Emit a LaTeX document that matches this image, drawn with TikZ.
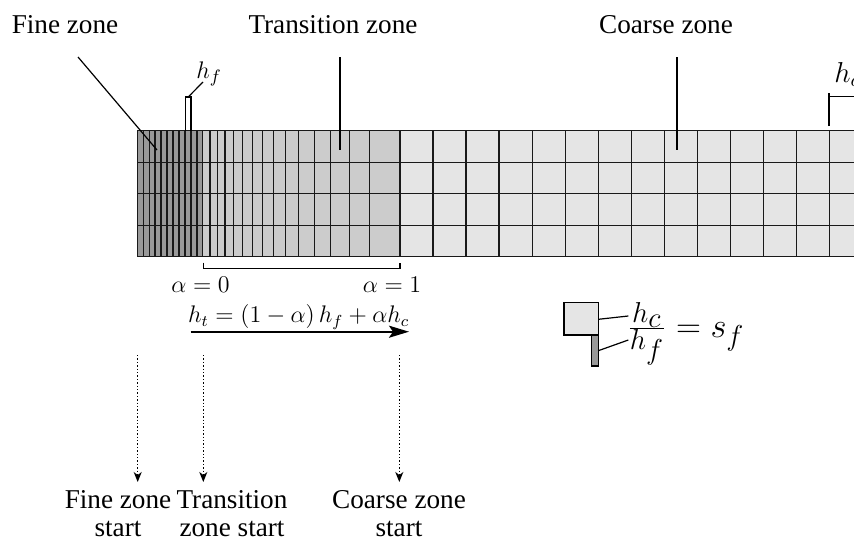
\documentclass[tikz,border=0pt]{standalone}
\usepackage[no-math]{fontspec}
\setmainfont{Liberation Serif}
\usetikzlibrary{arrows.meta}
\definecolor{finegray}{gray}{0.6}
\definecolor{transgray}{gray}{0.8}
\definecolor{coarsegray}{gray}{0.9}
\begin{document}
\begin{tikzpicture}[x=0.5pt,y=-0.5pt,
  meshline/.style={draw=black!90,line width=0.7pt},
  leader/.style={draw=black,line width=0.6pt},
  lbl/.style={inner sep=0pt,font=\fontsize{13.6}{14.2}\selectfont},
  twoline/.style={lbl,align=center,anchor=north},
  mth/.style={inner sep=0pt,font=\fontsize{12}{14}\selectfont},
  startarrow/.style={densely dotted,line width=0.7pt,-{Stealth[length=5pt,width=4pt,inset=1.5pt]}},
  mainarrow/.style={line width=1pt,-{Stealth[length=10pt,width=6pt,inset=2pt]}}]
\path[use as bounding box, clip] (0,0) rectangle (854,546);

% ---- mesh ----
\fill[finegray] (137.3,130.7) rectangle (202.7,256.7);
\fill[transgray] (202.7,130.7) rectangle (400,256.7);
\fill[coarsegray] (400,130.7) rectangle (880,256.7);
\foreach \i in {0,...,11} \draw[meshline] ({137.3+5.95*\i},130.7) -- ({137.3+5.95*\i},256.7);
\foreach \x in {210,217.3,225,233.3,242.7,252.3,262.7,273.7,285.7,298.7,314.3,330.7,349.3,369.7}
  \draw[meshline] (\x,130.7) -- (\x,256.7);
\foreach \k in {1,...,14} \draw[meshline] ({400+33.05*\k},130.7) -- ({400+33.05*\k},256.7);
\draw[meshline,line width=0.95pt] (400,130.7) -- (400,256.7);
\foreach \y in {130.7,162.2,193.7,225.2,256.7} \draw[meshline] (137.3,\y) -- (880,\y);

% ---- zone labels ----
\node[lbl,anchor=base] (fine) at (65,33) {Fine zone};
\node[lbl,anchor=base] (trans) at (333,33) {Transition zone};
\node[lbl,anchor=base] (coarse) at (666,33) {Coarse zone};
\coordinate (fineA) at (78,57);   \coordinate (fineB) at (157,150);
\coordinate (transA) at (340,57); \coordinate (transB) at (340,149.5);
\coordinate (coarseA) at (677,57); \coordinate (coarseB) at (677,150);
\draw[leader] (fineA) -- (fineB);
\draw[leader] (transA) -- (transB);
\draw[leader] (coarseA) -- (coarseB);

% ---- h_f marker ----
\draw[leader] (185.3,130.7) -- (185.3,95.5);
\draw[leader] (191,130.7) -- (191,95.5);
\draw[leader] (185.3,97) -- (191,97);
\node[mth,anchor=base west,font=\fontsize{13}{15}\selectfont] (hf) at (196,78) {$h_f$};
\coordinate (hfA) at (188.2,97);
\coordinate (hfB) at (203,82);
\draw[leader] (hfA) -- (hfB);

% ---- h_c marker ----
\draw[leader] (829,126) -- (829,92.7);
\draw[leader] (829,96.7) -- (880,96.7);
\node[mth,anchor=base west,font=\fontsize{14}{16}\selectfont] (hc) at (834,82) {$h_c$};

% ---- alpha bracket ----
\draw[leader] (203.3,262.7) -- (203.3,268.3) -- (400,268.3) -- (400,262.7);
\node[mth,anchor=base] (a0) at (200.5,292) {$\alpha = 0$};
\node[mth,anchor=base] (a1) at (392,292) {$\alpha = 1$};

% ---- transition formula ----
\node[mth,anchor=base] (form) at (298.7,322.5) {$h_t = (1-\alpha)\,h_f + \alpha h_c$};
\coordinate (arrS) at (190.7,331.7);
\coordinate (arrE) at (409,331.7);
\draw[mainarrow] (arrS) -- (arrE);

% ---- legend ----
\draw[leader,fill=coarsegray] (564,302.7) rectangle (598.3,335);
\draw[leader,fill=finegray] (591.7,335) rectangle (598.3,366);
\node[inner sep=0pt,anchor=base west,font=\fontsize{19}{21}\selectfont] (eq) at (627,337)
  {$\frac{h_{\scriptstyle c}}{h_{\scriptstyle f}} = s_f$};
\coordinate (sqA) at (598.3,319.3); \coordinate (sqB) at (628.3,316);
\coordinate (brA) at (598.3,350.7); \coordinate (brB) at (628.3,340);
\draw[leader] (sqA) -- (sqB);
\draw[leader] (brA) -- (brB);

% ---- start arrows ----
\node[twoline] (fs) at (118,490) {Fine zone\\start};
\node[twoline] (ts) at (232,490) {Transition\\zone start};
\node[twoline] (cs) at (399,490) {Coarse zone\\start};
\coordinate (fsA) at (137.7,355); \coordinate (fsB) at (137.7,482);
\coordinate (tsA) at (203.3,355); \coordinate (tsB) at (203.3,482);
\coordinate (csA) at (399.3,355); \coordinate (csB) at (399.3,482);
\draw[startarrow] (fsA) -- (fsB);
\draw[startarrow] (tsA) -- (tsB);
\draw[startarrow] (csA) -- (csB);
\end{tikzpicture}
\end{document}
